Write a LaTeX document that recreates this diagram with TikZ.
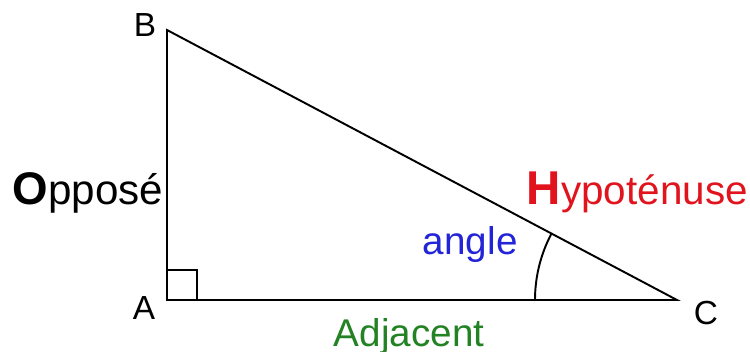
\documentclass[tikz,border=0pt]{standalone}
\usepackage{fontspec}
\setmainfont{Liberation Sans}
\usetikzlibrary{positioning}

\definecolor{rouge}{RGB}{225,20,30}
\definecolor{bleu}{RGB}{35,35,215}
\definecolor{vert}{RGB}{35,130,35}

\tikzset{
    sommet/.style={font=\fontsize{19}{21}\selectfont, anchor=base west, inner sep=0pt},
    cote/.style={font=\fontsize{23}{26}\selectfont, anchor=base west, inner sep=0pt},
}

\begin{document}
\begin{tikzpicture}[line width=1.1pt]
    \useasboundingbox (0, 0) rectangle (15, 7.04);
    \coordinate (A) at (3.34, 1.04);
    \coordinate (B) at (3.34, 6.44);
    \coordinate (C) at (13.54, 1.04);

    \draw (A) -- (B) -- (C) -- cycle;
    \draw (A) rectangle ++(0.6, 0.6);
    \draw ([shift={(180:2.84)}]C) arc (180:152.1:2.84);

    \node[sommet] at (2.64, 0.64) (labA) {A};
    \node[sommet] at (2.66, 6.3) (labB) {B};
    \node[sommet] at (13.86, 0.54) (labC) {C};

    \node[cote] at (0.24, 2.94) (opp) {{\fontsize{26}{28}\selectfont\bfseries O}\fontsize{24}{26}\selectfont pposé};
    \node[cote, rouge] at (10.52, 2.94) (hyp) {{\fontsize{27}{29}\selectfont\bfseries H}ypoténuse};
    \node[cote, bleu, font=\fontsize{22}{26}\selectfont] at (8.44, 1.94) (ang) {angle};
    \node[cote, vert, font=\fontsize{22}{26}\selectfont] at (6.66, 0.12) (adj) {Adjacent};
\end{tikzpicture}
\end{document}
